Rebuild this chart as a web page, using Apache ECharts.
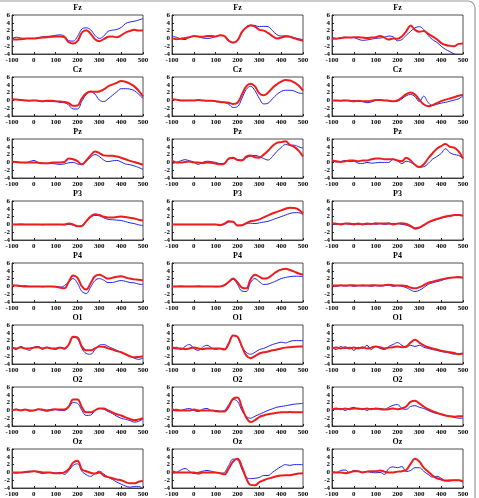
<!DOCTYPE html>
<html><head><meta charset="utf-8">
<script src="https://cdn.jsdelivr.net/npm/echarts@6/dist/echarts.min.js"></script>
<style>html,body{margin:0;padding:0;background:#fff}#c{width:479px;height:498px}</style>
</head><body><div id="c"></div>
<script>
const times = [-100,-80,-60,-40,-20,0,20,40,60,80,100,120,140,160,180,200,220,240,260,280,300,320,340,360,380,400,420,440,460,480,500];
const channels = ['Fz','Cz','Pz','P3','P4','O1','O2','Oz'];
const xTicks = [-100,0,100,200,300,400,500];
const yTicks = [-4,-2,0,2,4,6];

// Fz
const fz1Blue = [0,0.3,0.1,0,0,0,0.2,0.4,0.5,0.6,0.8,0.9,0.6,-0.6,-0.7,0.5,2.4,2.7,2.2,0.8,0,0.6,1.8,2.1,2.3,2.8,3.8,4.2,4.4,4.7,5.1];
const fz1Red  = [-0.3,-0.3,-0.2,-0.1,0,0,0.1,0.2,0.3,0.4,0.5,0.5,0.3,-1.0,-1.3,-0.7,1.5,2.1,1.2,-0.2,-0.7,-0.2,0.4,0.5,0.3,0.8,1.5,1.9,2.2,2.0,2.0];
const fz2Blue = [0.5,0.3,-0.1,-0.3,0.3,0.5,0.4,0.1,0,0.1,0.5,0.8,0.5,-0.7,-1.0,-0.3,1.5,3.0,3.4,3.3,3.0,3.1,3.0,2.0,1.0,0.6,0.7,0.5,0.2,-0.1,-0.3];
const fz2Red  = [0,-0.2,-0.1,0.1,0.3,0.6,0.5,0.4,0.6,0.6,0.5,0.8,0.6,-0.6,-1.1,-0.5,1.6,2.8,3.3,3.0,2.2,2.0,1.4,0.6,0,0.2,0.5,0.4,0,-0.3,-0.6];
const fz3Blue = [0.3,0,0.2,0.3,0.2,0.2,-0.2,-0.5,-0.4,-0.2,0,0.1,0.3,0.6,0.4,-0.6,-0.3,0.8,1.8,2.7,3.0,2.3,0.8,-0.3,-1.0,-2.0,-2.8,-3.4,-4.0,-4.4,-4.8];
const fz3Red  = [0,-0.1,0.1,0.2,0.2,0.3,0.3,0.2,0.1,0.2,0.3,0.6,0.2,-0.3,0,-0.1,0.5,1.8,3.3,2.2,1.7,1.9,1.2,0.5,-0.2,-1.2,-1.7,-1.9,-2.0,-1.4,-1.3];
// Cz
const cz1Blue = [0.3,0.2,0.1,0,0,0,-0.1,-0.2,-0.2,-0.3,-0.3,-0.5,-0.6,-1.2,-2.2,-2.2,-0.2,1.5,2.2,1.6,0.1,-0.3,0.4,1.3,2.2,3.0,3.0,2.9,2.5,1.6,0.5];
const cz1Red  = [0.3,0.2,0.1,0,-0.1,0,-0.1,-0.2,-0.1,-0.1,-0.2,-0.3,-0.4,-0.7,-1.4,-1.3,0.5,1.8,2.3,2.2,2.3,2.8,3.6,4.1,4.5,5.0,4.8,4.3,3.6,2.5,1.0];
const cz2Blue = [0.2,0.2,0,0,0,0,0,0,-0.1,-0.1,-0.3,-0.4,-0.5,-1.0,-1.8,-1.6,0.5,2.8,3.6,2.5,0.5,-0.9,-0.7,0.4,1.5,2.3,2.6,2.6,2.4,1.9,1.8];
const cz2Red  = [0.3,0.2,0,0,0,0,0.1,0,-0.1,-0.1,-0.2,-0.4,-0.5,-0.6,-0.9,-0.6,1.5,3.6,4.3,3.6,1.8,1.3,2.0,3.2,4.1,4.8,5.2,5.1,4.6,3.8,2.5];
const cz3Blue = [0,-0.1,0,0,-0.1,0,-0.2,-0.3,-0.6,-0.4,0,0.1,0,0,-0.3,-0.2,0.4,1.2,1.5,1.0,-0.3,1.1,-0.5,-1.3,-1.0,-0.7,-0.5,-0.2,0.1,0.4,1.2];
const cz3Red  = [0,0,-0.1,0,-0.1,-0.2,-0.1,-0.2,-0.2,-0.1,0.1,0.1,0,-0.1,-0.2,0,0.7,1.6,2.0,1.5,0.2,-1.0,-1.5,-1.2,-0.7,-0.2,0.2,0.5,0.8,1.2,1.4];
// Pz
const pz1Blue = [0.2,0.1,0,-0.1,0.2,0.5,0,-0.2,-0.3,-0.3,-0.4,-0.5,-0.4,-0.1,0,-0.4,-0.6,0.3,1.3,2.0,1.5,0.6,0.2,0.4,0.5,0.1,-0.4,-0.6,-0.9,-1.3,-1.8];
const pz1Red  = [0.2,0.1,0,0,0,0,-0.1,-0.2,-0.2,-0.1,0,0,0.1,1.0,0.8,0.3,-0.5,0.5,1.8,2.8,2.4,1.8,1.7,1.7,1.5,1.2,0.8,0.4,0.1,-0.2,-0.6];
const pz2Blue = [-0.3,0,0.4,0.7,0.4,0.1,-0.5,0,0.3,0.2,0,-0.3,-0.2,0.8,1.0,0.7,0.6,1.2,1.6,1.8,1.5,1.0,0.6,1.5,2.8,3.8,4.6,4.4,4.4,4.0,3.6];
const pz2Red  = [0.5,0,0,0.1,0.2,0,0,-0.2,0,-0.1,-0.3,-0.5,-0.3,1.0,1.2,0.6,0.5,1.5,1.8,1.3,1.2,2.0,3.0,4.2,5.0,5.2,5.4,4.5,4.0,3.0,1.5];
const pz3Blue = [0.5,0.1,0.2,0.5,0.2,0.3,-0.2,-0.3,0,-0.2,-0.1,0,0,0,0.8,0.4,-0.3,0.3,0,-0.6,-1.2,-1.1,-0.3,0.8,1.5,2.3,3.5,2.5,2.0,1.8,1.0];
const pz3Red  = [0.5,0.3,0.1,0.3,0.5,0.5,0.3,0.5,0.5,0.8,1.0,1.0,0.8,0.8,0.8,0.5,0.3,1.2,0.5,-0.6,-1.2,-0.5,1.0,2.3,3.5,4.2,4.7,4.0,3.8,2.8,1.0];
// P3
const p31Blue = [0,0,0.1,0,0,0,0,-0.1,0,0,0,0,-0.1,0,-0.2,-0.5,-0.3,0.8,1.8,2.3,2.2,1.7,1.3,1.2,1.1,1.0,0.7,0.4,0.2,-0.1,-0.3];
const p31Red  = [0,0,0,0,0,0,0,0,0,0,0,0,0,0.2,0,-0.5,-0.4,0.8,2.0,2.6,2.4,2.0,1.8,1.8,1.9,2.0,1.9,1.7,1.5,1.2,1.0];
const p32Blue = [0,0,0,0,0,0,0,0,0,0,0,-0.2,0,0.6,0.7,-0.2,-0.2,0.2,0.3,0.2,0.4,0.6,0.8,1.2,1.6,2.0,2.4,2.8,3.0,3.0,2.5];
const p32Red  = [0,0,0,0,0,0,0,0,0,0,0,-0.2,0.2,0.8,0.7,-0.3,-0.2,0.3,0.8,1.0,1.3,1.8,2.3,2.8,3.2,3.6,4.0,4.3,4.2,3.8,2.8];
const p33Blue = [0.2,0,0.1,0.2,0,0.2,0,0.1,0,0.2,0,0.2,0,0.1,0.2,0.2,0,-0.2,-0.6,-1.2,-0.9,-0.3,0.4,0.9,1.3,1.6,1.9,2.1,2.3,2.4,2.3];
const p33Red  = [0.3,0.2,0,0.2,0.2,0,0.2,0,0.2,0.1,0.3,0.2,0.2,0.3,0,0.2,0.3,0.1,-0.4,-1.0,-0.8,-0.2,0.5,1.0,1.4,1.7,2.0,2.2,2.4,2.4,2.2];
// P4
const p41Blue = [0.3,0.2,0,0.2,0,0,0,-0.1,0,0,0,-0.2,0.2,1.2,2.0,0.8,-1.3,-1.8,-0.2,1.5,2.0,1.6,1.0,1.0,1.3,1.5,1.3,1.0,0.9,0.6,0.5];
const p41Red  = [0.3,0.2,0.1,0,0,0,0,0,0,0,-0.1,-0.3,-0.5,1.2,2.8,2.2,0,-0.8,0.8,2.6,3.0,2.5,2.0,2.2,2.5,2.6,2.3,2.0,1.8,1.7,1.5];
const p42Blue = [0,0,0.1,0,0,0,0.1,0,0,0,-0.1,0,0.2,1.0,1.8,0.5,-1.2,-1.3,1.0,2.0,1.2,0.5,0.6,1.0,1.5,2.0,2.3,2.5,2.6,2.6,2.5];
const p42Red  = [0,0,0,0,0,0,0,0,0,0,0,0,0.3,1.2,2.0,1.0,-0.3,-0.5,1.8,3.0,2.5,2.0,2.2,3.0,3.8,4.3,4.5,4.2,3.8,3.3,3.0];
const p43Blue = [0.2,0,0.2,0.1,0.2,0,0.2,0.1,0.2,0,0.2,0.1,0.2,0.3,0,0.2,0,-0.3,-0.9,-1.3,-1.0,-0.3,0.5,0.9,1.2,1.5,1.9,2.2,2.3,2.2,2.3];
const p43Red  = [0.3,0.2,0.3,0.2,0.3,0.3,0.2,0.3,0.2,0.3,0.3,0.2,0.3,0.4,0.3,0.2,0.2,0.1,-0.3,-0.5,-0.2,0.3,0.9,1.2,1.5,1.8,2.0,2.2,2.3,2.4,2.2];
// O1
const o11Blue = [0.3,-0.3,0.5,0,-0.5,0.3,0.5,-0.2,0.3,0,-0.3,0.2,-0.2,1.0,2.8,2.5,0,-1.3,-1.5,-0.3,0.8,1.0,0.5,0,-0.5,-1.0,-1.5,-2.0,-2.5,-2.8,-2.5];
const o11Red  = [0.2,0,0.3,0,0,0.2,0.3,0,0.2,0,0,0.2,0,1.0,3.0,2.8,0.5,-0.5,-0.5,0,0.5,0.4,0,-0.3,-0.7,-1.0,-1.5,-2.0,-2.3,-2.2,-2.0];
const o12Blue = [0,0.3,-0.3,0.5,1.0,0,-0.5,0.3,0.8,0.2,-0.3,0,-0.2,1.5,3.3,2.8,0.5,-1.0,-1.5,-1.0,-0.3,0,0.5,1.0,1.3,1.6,1.4,1.8,2.0,2.0,2.0];
const o12Red  = [0.3,0,0,-0.2,0,0.2,0,-0.2,0,0,0,0,-0.3,1.2,3.3,3.0,0.5,-1.8,-2.5,-2.0,-1.3,-1.0,-0.8,-0.5,-0.3,0,0.2,0.3,0.4,0.5,0.5];
const o13Blue = [0.3,-0.3,0.5,0,0.3,-0.5,0.3,0,0.8,-0.3,0.5,0,-0.3,0.5,1.0,1.5,0.8,0.3,0.8,0.5,0.8,0.3,0,-0.3,-0.5,-0.8,-1.0,-1.2,-1.5,-1.3,-1.5];
const o13Red  = [0,0.2,0,0.3,0,0.2,0,0.3,0,0.2,0.5,0.3,0,0.2,0.3,0.5,0.3,0.5,1.5,2.2,1.5,0.8,0.3,0,-0.3,-0.6,-0.8,-1.0,-1.2,-1.5,-1.2];
// O2
const o21Blue = [0,0.3,0,0.2,-0.2,0,0.3,0,-0.2,0,0.2,0,0,0.8,2.0,1.8,0,-1.3,-1.2,0,0.5,0.3,-0.3,-0.8,-1.5,-2.0,-2.3,-2.6,-3.0,-2.8,-2.2];
const o21Red  = [0,0.2,0,0.2,0,0,0.3,0.2,0,0.2,0.3,0.2,0.2,1.0,2.8,2.8,0.8,-0.5,-0.5,0,0.5,0.5,0,-0.5,-1.0,-1.3,-1.8,-2.2,-2.5,-2.3,-2.0];
const o22Blue = [0,0.3,0,0.3,0.5,0,-0.3,0.3,0.5,0,0,-0.2,0,1.5,2.8,2.3,0,-1.5,-2.0,-1.5,-1.0,-0.5,0,0.4,0.8,1.0,1.2,1.4,1.6,1.7,1.8];
const o22Red  = [0.3,0,0,0,0,0.2,0,0,0,0,-0.2,-0.3,-0.3,1.0,3.0,3.3,0.8,-1.8,-3.0,-2.5,-1.7,-1.3,-1.0,-0.8,-0.6,-0.5,-0.5,-0.4,-0.5,-0.5,-0.5];
const o23Blue = [0.5,0.3,0.5,0,0.5,0.8,0.3,0.5,0,0.5,0.3,0.5,0.3,0.8,1.3,1.5,0.5,0.3,1.0,1.2,0.8,0.5,0,-0.5,-0.8,-1.0,-1.3,-1.5,-1.8,-2.0,-2.0];
const o23Red  = [0.3,0.5,0.3,0.5,0.3,0.5,0.5,0.3,0.5,0.3,0.5,0.3,0.2,0.3,0.5,0.3,0.5,1.0,2.2,2.5,1.8,1.0,0.3,-0.2,-0.6,-1.0,-1.3,-1.5,-1.6,-1.5,-1.5];
// Oz
const oz1Blue = [0,-0.2,0,0,0.1,0.3,0,-0.3,-0.1,0,-0.2,0,-0.5,0.5,1.8,2.2,0.3,-0.6,-1.0,-0.3,0.3,-0.4,-1.2,-1.8,-2.5,-3.0,-3.5,-3.8,-3.6,-3.6,-4.2];
const oz1Red  = [0,0,0,0.1,0.2,0.3,0.2,0,0,-0.1,-0.2,-0.2,0,0.8,2.5,3.0,0.8,0.3,-0.1,-0.3,0,-0.8,-1.2,-1.5,-1.8,-2.0,-2.5,-2.8,-2.8,-2.4,-2.2];
const oz2Blue = [-0.3,0,0.6,1.0,0.3,-0.3,0,0.3,0.5,0.3,0,-0.2,0,1.8,3.4,3.2,0.8,-1.2,-1.6,-1.5,-1.3,-0.8,-0.8,0,0.8,1.5,2.0,1.8,2.0,2.0,2.0];
const oz2Red  = [0.3,0,0,0,0,0,-0.3,0,0,0,0,-0.2,-0.5,1.0,2.8,3.5,1.5,-1.5,-3.2,-3.3,-2.5,-2.0,-1.6,-1.3,-1.0,-0.8,-0.7,-0.7,-0.5,-0.3,-0.2];
const oz3Blue = [0.3,0,0.5,0.6,0,0.5,0.3,0,0.2,0,-0.1,0,-0.5,1.0,1.4,1.2,1.5,0.2,0.5,1.2,1.2,0.3,-0.5,-1.2,-1.0,-1.5,-2.2,-2.2,-2.0,-2.0,-2.6];
const oz3Red  = [0,0,0,-0.2,0,0.3,0.3,0,0.2,0.3,0.3,0.5,0.2,0,0,0.2,0.3,0.6,2.2,3.5,2.8,1.2,0.2,-0.8,-1.5,-1.8,-2.1,-2.0,-2.0,-2.0,-2.3];

const panels = [
  [[fz1Blue,fz1Red],[fz2Blue,fz2Red],[fz3Blue,fz3Red]],
  [[cz1Blue,cz1Red],[cz2Blue,cz2Red],[cz3Blue,cz3Red]],
  [[pz1Blue,pz1Red],[pz2Blue,pz2Red],[pz3Blue,pz3Red]],
  [[p31Blue,p31Red],[p32Blue,p32Red],[p33Blue,p33Red]],
  [[p41Blue,p41Red],[p42Blue,p42Red],[p43Blue,p43Red]],
  [[o11Blue,o11Red],[o12Blue,o12Red],[o13Blue,o13Red]],
  [[o21Blue,o21Red],[o22Blue,o22Red],[o23Blue,o23Red]],
  [[oz1Blue,oz1Red],[oz2Blue,oz2Red],[oz3Blue,oz3Red]]
];

const colLeft = [12, 172, 332];
const plotW = 131, plotH = 39, rowTop0 = 15, rowStep = 62;
const font = 'Liberation Serif';
const grids = [], xAxes = [], yAxes = [], series = [], titles = [];
const pair = arr => arr.map((v, i) => [times[i], v]);

channels.forEach((ch, r) => {
  for (let c = 0; c < 3; c++) {
    const idx = grids.length;
    const top = rowTop0 + r * rowStep;
    grids.push({left: colLeft[c], top: top, width: plotW, height: plotH, show: true,
      borderColor: '#222', borderWidth: 0.8, backgroundColor: '#fff'});
    xAxes.push({type: 'value', gridIndex: idx, min: xTicks[0], max: xTicks[xTicks.length-1], interval: 100,
      axisLine: {show: true, onZero: false, lineStyle: {color: '#222', width: 0.8}},
      axisTick: {show: true, inside: true, length: 2, lineStyle: {color: '#222'}},
      splitLine: {show: false},
      axisLabel: {fontSize: 7, fontWeight: 'bold', fontFamily: font, color: '#000', margin: 3, hideOverlap: false}});
    yAxes.push({type: 'value', gridIndex: idx, min: yTicks[0], max: yTicks[yTicks.length-1], interval: 2,
      axisLine: {show: true, onZero: false, lineStyle: {color: '#222', width: 0.8}},
      axisTick: {show: true, inside: true, length: 2, lineStyle: {color: '#222'}},
      splitLine: {show: false},
      axisLabel: {fontSize: 7, fontWeight: 'bold', fontFamily: font, color: '#000', margin: 2, hideOverlap: false}});
    titles.push({text: ch, left: colLeft[c] + plotW / 2, top: top - 11, textAlign: 'center', padding: 0,
      textStyle: {fontSize: 8, fontWeight: 'bold', fontFamily: font, color: '#000'}});
    const [b, rd] = panels[r][c];
    series.push({type: 'line', xAxisIndex: idx, yAxisIndex: idx, data: pair(b), smooth: 0.4, symbol: 'none',
      clip: true, lineStyle: {color: '#2323e6', width: 1}, z: 2});
    series.push({type: 'line', xAxisIndex: idx, yAxisIndex: idx, data: pair(rd), smooth: 0.4, symbol: 'none',
      clip: true, lineStyle: {color: '#ee1c1c', width: 2}, z: 3});
  }
});

const chart = echarts.init(document.getElementById('c'), null, {renderer: 'canvas'});
chart.setOption({
  animation: false,
  backgroundColor: '#fff',
  title: titles,
  grid: grids,
  xAxis: xAxes,
  yAxis: yAxes,
  series: series,
  graphic: [{type: 'rect', shape: {x: -20, y: 1, width: 495, height: 530, r: 7},
    style: {fill: 'none', stroke: '#9a9a9a', lineWidth: 1.2}, silent: true, z: -1}]
});
</script></body></html>
